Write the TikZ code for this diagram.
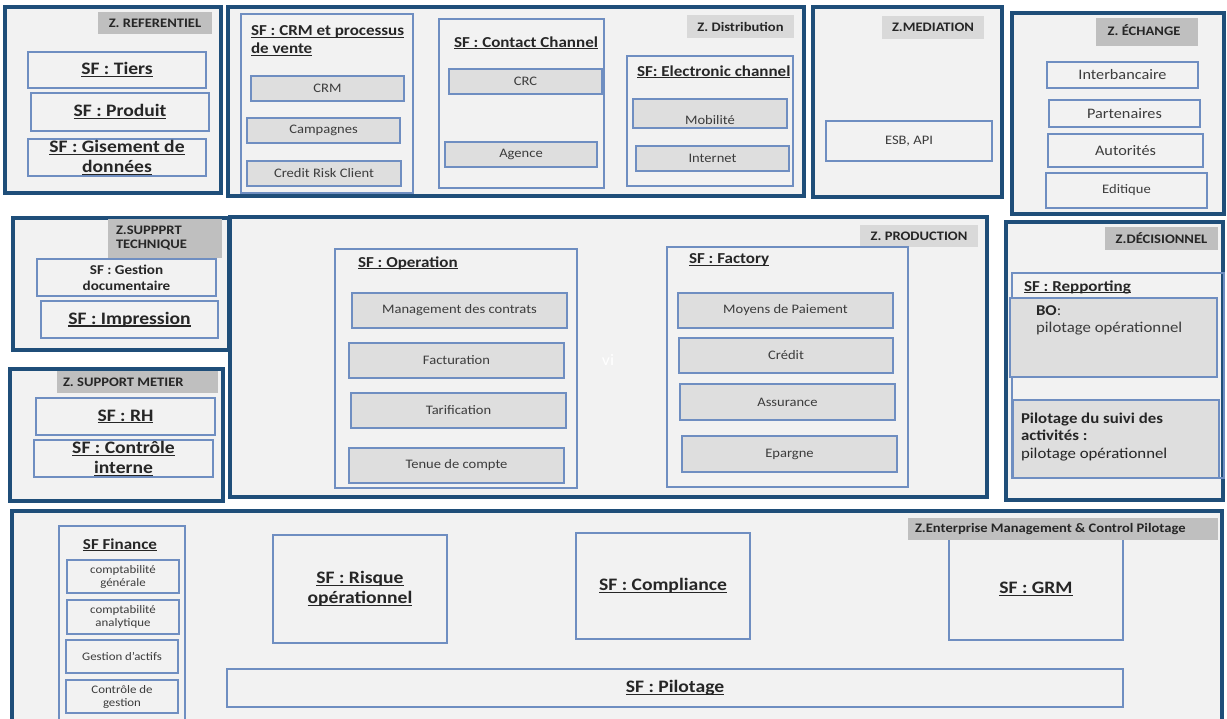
\documentclass[tikz,border=0pt]{standalone}
\usepackage{fontspec}
\setmainfont{Carlito}[FakeStretch=1.12]

% palette
\definecolor{zoneblue}{RGB}{31,78,121}
\definecolor{zonefill}{RGB}{242,242,242}
\definecolor{boxline}{RGB}{111,142,193}
\definecolor{itemfill}{RGB}{222,222,222}
\definecolor{labdark}{RGB}{191,191,191}
\definecolor{lablight}{RGB}{217,217,217}
\definecolor{txt}{RGB}{38,38,38}
\definecolor{itxt}{RGB}{60,60,60}

% type sizes
\newcommand\fzone{\fontsize{13}{14}\bfseries\selectfont}
\newcommand\fbig{\fontsize{17.5}{20}\bfseries\selectfont}
\newcommand\ftitle{\fontsize{15.2}{18}\bfseries\selectfont}
\newcommand\fitem{\fontsize{13}{15}\selectfont}
\newcommand\fxch{\fontsize{14.5}{16}\selectfont}
\newcommand\fdoc{\fontsize{13.5}{16}\bfseries\selectfont}
\newcommand\fdec{\fontsize{15}{17.5}\selectfont}
\newcommand\fsmall{\fontsize{11.5}{13}\selectfont}
\newcommand\fvi{\fontsize{16}{18}\selectfont}

% underline sitting just under the baseline
\newcommand\ulx[1]{\leavevmode\setbox0=\hbox{#1}\rlap{\rule[-0.13em]{\wd0}{0.07em}}\box0}

% rectangle node given by its corners: name, style, x1, y1, x2, y2, text
\newcommand\bx[7]{\node[#2, minimum width={(#5)-(#3)}, minimum height={(#6)-(#4)}] (#1) at ({((#3)+(#5))/2},{((#4)+(#6))/2}) {#7};}

\tikzset{
  base/.style={rectangle, inner sep=0pt, outer sep=0pt},
  zone/.style={base, draw=zoneblue, fill=zonefill, line width=4.5pt},
  lbd/.style={base, fill=labdark},
  lbl/.style={base, fill=lablight},
  ztext/.style={base, font=\fzone, text=txt},
  sfbig/.style={base, draw=boxline, line width=1.4pt, font=\fbig, text=txt, align=center},
  cont/.style={base, draw=boxline, line width=1.4pt},
  ttl/.style={base, font=\ftitle, text=txt, anchor=west, align=left},
  item/.style={base, draw=boxline, line width=1.4pt, fill=itemfill, font=\fitem, text=itxt, align=center},
  plainitem/.style={base, draw=boxline, line width=1.4pt, font=\fitem, text=itxt, align=center},
}

\begin{document}
\begin{tikzpicture}[x=1pt,y=-1pt]
\useasboundingbox (0,0) rectangle (1227,719);
\clip (0,0) rectangle (1227,719);
\fill[white] (0,0) rectangle (1227,719);

% ---------- zones ----------
\bx{zref}{zone}{5}{7}{221}{193}{}
\bx{zdist}{zone}{228}{7}{804}{196}{}
\bx{zmed}{zone}{813}{7}{1002}{197}{}
\bx{zech}{zone}{1012}{13}{1224}{214}{}
\bx{ztech}{zone}{13}{218}{229}{350}{}
\bx{zmet}{zone}{10}{369}{223}{501}{}
\bx{zprod}{zone}{230}{217}{987}{497}{}
\bx{zdec}{zone}{1006}{222}{1223}{500}{}
\bx{zent}{zone}{12}{511}{1222}{735}{}

% ---------- Z. REFERENTIEL ----------
\bx{lref}{lbd, ztext}{98}{12}{212}{34}{Z. REFERENTIEL}
\bx{tiers}{sfbig}{28}{52}{206}{88}{\ulx{SF : Tiers}}
\bx{produit}{sfbig}{31}{93}{209}{131}{\ulx{SF : Produit}}
\bx{gisement}{sfbig}{28}{139}{206}{176}{\ulx{SF : Gisement de}\\\ulx{données}}

% ---------- Z. Distribution ----------
\bx{ldist}{lbl, ztext}{687}{15}{794}{38}{Z. Distribution}
\bx{crmbox}{cont}{241}{14}{413}{193}{}
\node[ttl] (tcrm) at (251,41) {\ulx{SF : CRM et processus}\\\ulx{de vente}};
\bx{crm}{item}{251}{76}{404}{101}{CRM}
\bx{camp}{item}{247}{118}{400}{143}{Campagnes}
\bx{crc2}{item}{247}{161}{401}{186}{Credit Risk Client}

\bx{contbox}{cont}{439}{19}{604}{188}{}
\node[ttl] (tcont) at (454,43) {\ulx{SF : Contact Channel}};
\bx{crc}{item}{449}{69}{602}{94}{CRC}
\bx{agence}{item}{445}{142}{597}{167}{Agence}

\bx{elecbox}{cont}{627}{56}{793}{186}{}
\node[ttl] (telec) at (637,72) {\ulx{SF: Electronic channel}};
\bx{mob}{item}{633}{99}{787}{128}{}
\node[base, font=\fitem, text=itxt] (tmob) at (710,120.5) {Mobilité};
\bx{internet}{item}{636}{146}{789}{171}{Internet}

% ---------- Z.MEDIATION ----------
\bx{lmed}{lbl, ztext}{882}{16}{984}{39}{Z.MEDIATION}
\bx{esb}{plainitem}{826}{121}{992}{161}{ESB, API}

% ---------- Z. ÉCHANGE ----------
\bx{lech}{lbd}{1096}{18}{1198}{46}{}
\node[ztext] (tech) at (1144,30) {Z. ÉCHANGE};
\bx{interb}{plainitem, font=\fxch}{1047}{62}{1198}{88}{Interbancaire}
\bx{part}{plainitem, font=\fxch}{1049}{100}{1200}{127}{Partenaires}
\bx{auto}{plainitem, font=\fxch}{1048}{134}{1203}{167}{Autorités}
\bx{edit}{plainitem}{1046}{173}{1207}{208}{Editique}

% ---------- Z.SUPPPRT TECHNIQUE ----------
\bx{ltech}{lbd}{108}{219}{222}{258}{}
\node[ztext, anchor=west, align=left] (ttech) at (116,238.5) {Z.SUPPPRT\\TECHNIQUE};
\bx{gdoc}{plainitem, font=\fdoc, text=txt}{37}{259}{216}{296}{SF : Gestion\\documentaire}
\bx{impr}{sfbig}{41}{301}{218}{338}{\ulx{SF : Impression}}

% ---------- Z. SUPPORT METIER ----------
\bx{lmet}{lbd}{57}{371}{218}{393}{}
\node[ztext, anchor=west] (tmet) at (63,382) {Z. SUPPORT METIER};
\bx{rh}{sfbig}{36}{398}{215}{435}{\ulx{SF : RH}}
\bx{ctrl}{sfbig}{34}{440}{213}{477}{\ulx{SF : Contrôle}\\\ulx{interne}}

% ---------- Z. PRODUCTION ----------
\bx{lprod}{lbl, ztext}{860}{225}{978}{247}{Z. PRODUCTION}
\bx{opbox}{cont}{335}{249}{577}{488}{}
\node[ttl] (top) at (358,263) {\ulx{SF : Operation}};
\bx{mgmt}{item}{352}{293}{567}{328}{Management des contrats}
\bx{fact}{item}{349}{343}{564}{378}{Facturation}
\bx{tarif}{item}{351}{393}{566}{428}{Tarification}
\bx{tenue}{item}{349}{448}{564}{483}{Tenue de compte}
\node[base, font=\fvi, text=white] (tvi) at (608,360) {vi};

\bx{facbox}{cont}{667}{247}{908}{487}{}
\node[ttl] (tfac) at (689,260) {\ulx{SF : Factory}};
\bx{moy}{item}{678}{293}{893}{328}{Moyens de Paiement}
\bx{cred}{item}{679}{338}{893}{373}{Crédit}
\bx{ass}{item}{680}{384}{895}{420}{Assurance}
\bx{epa}{item}{682}{436}{897}{472}{Epargne}

% ---------- Z.DÉCISIONNEL ----------
\bx{ldec}{lbd, ztext}{1105}{227}{1218}{250}{Z.DÉCISIONNEL}
\bx{repbox}{cont}{1012}{273}{1224}{478}{}
\node[ttl] (trep) at (1024,287) {\ulx{SF : Repporting}};
\bx{bo}{item}{1010}{298}{1217}{377}{}
\node[base, anchor=west, align=left, font=\fdec, text=itxt] (tbo) at (1036,320.5) {{\bfseries\color{txt}BO}:\\pilotage opérationnel};
\bx{pil}{item}{1013}{400}{1219}{478}{}
\node[base, anchor=west, align=left, font=\fdec, text=txt] (tpil) at (1021,437) {{\bfseries Pilotage du suivi des}\\{\bfseries activités :}\\pilotage opérationnel};

% ---------- Z.Enterprise Management & Control Pilotage ----------
\bx{finbox}{cont}{59}{526}{185}{730}{}
\node[ttl, anchor=center] (tfin) at (120,545) {\ulx{SF Finance}};
\bx{cg}{plainitem, font=\fsmall}{67}{560}{179}{593}{comptabilité\\générale}
\bx{ca}{plainitem, font=\fsmall}{67}{600}{179}{634}{comptabilité\\analytique}
\bx{ga}{plainitem, font=\fsmall}{66}{640}{178}{673}{Gestion d’actifs}
\bx{cdg}{plainitem, font=\fsmall}{66}{680}{178}{713}{Contrôle de\\gestion}
\bx{risk}{sfbig}{273}{535}{447}{643}{\ulx{SF : Risque}\\\ulx{opérationnel}}
\bx{comp}{sfbig}{576}{533}{750}{639}{\ulx{SF : Compliance}}
\bx{grm}{sfbig}{949}{538}{1123}{640}{\ulx{SF : GRM}}
\bx{pilo}{sfbig}{227}{669}{1123}{707}{\ulx{SF : Pilotage}}
\bx{lent}{lbd}{908}{518}{1218}{540}{}
\node[ztext, anchor=west] (tent) at (915,529) {Z.Enterprise Management \& Control Pilotage};
\end{tikzpicture}
\end{document}
